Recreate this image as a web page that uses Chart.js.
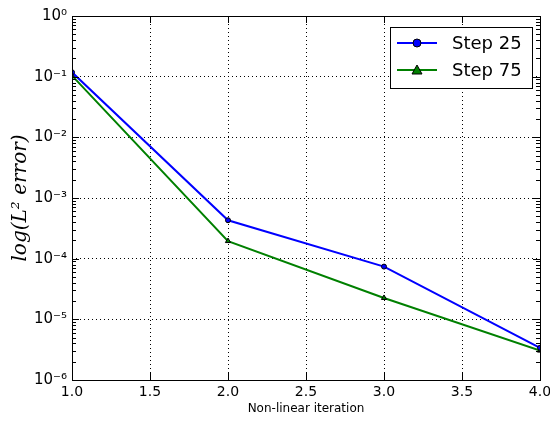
<!DOCTYPE html>
<html>
<head>
<meta charset="utf-8">
<script src="https://cdn.jsdelivr.net/npm/chart.js@4"></script>
<style>
  html, body { margin: 0; padding: 0; background: #fff; }
  #wrap { width: 550px; height: 421px; }
</style>
</head>
<body>
<div id="wrap"><canvas id="errChart" width="550" height="421"></canvas></div>
<script>
  // data
  const iterations = [1, 2, 3, 4];
  const step25 = [0.118, 4.3e-4, 7.4e-5, 3.4e-6];
  const step75 = [0.104, 1.95e-4, 2.25e-5, 3.05e-6];
  const seriesLabels = ['Step 25', 'Step 75'];
  const xTicks = [1.0, 1.5, 2.0, 2.5, 3.0, 3.5, 4.0];
  const yTicks = [1e-6, 1e-5, 1e-4, 1e-3, 1e-2, 1e-1, 1e0];

  const sup = {'-': '⁻', '0': '⁰', '1': '¹', '2': '²', '3': '³', '4': '⁴', '5': '⁵', '6': '⁶', '7': '⁷', '8': '⁸', '9': '⁹'};
  function powLabel(v) {
    const e = String(Math.round(Math.log10(v)));
    return '10' + e.split('').map(c => sup[c]).join('');
  }

  function toPoints(ys) {
    return iterations.map((x, i) => ({x: x, y: ys[i]}));
  }

  // frame, inward ticks and the boxed legend (matplotlib look)
  const framePlugin = {
    id: 'frame',
    afterDraw(chart) {
      const ctx = chart.ctx;
      const a = chart.chartArea;
      const xs = chart.scales.x, ys = chart.scales.y;
      ctx.save();
      ctx.strokeStyle = '#000';
      ctx.lineWidth = 1;
      ctx.beginPath();
      // x major ticks, top and bottom
      xTicks.forEach(v => {
        const px = Math.round(xs.getPixelForValue(v)) + 0.5;
        ctx.moveTo(px, a.bottom); ctx.lineTo(px, a.bottom - 7);
        ctx.moveTo(px, a.top); ctx.lineTo(px, a.top + 7);
      });
      // y major + minor ticks, left and right
      for (let d = -6; d <= 0; d++) {
        for (let k = 1; k <= 9; k++) {
          const v = k * Math.pow(10, d);
          if (v > 1.0000001) break;
          const py = Math.round(ys.getPixelForValue(v)) + 0.5;
          const len = k === 1 ? 7 : 4;
          ctx.moveTo(a.left, py); ctx.lineTo(a.left + len, py);
          ctx.moveTo(a.right, py); ctx.lineTo(a.right - len, py);
        }
      }
      ctx.stroke();
      ctx.strokeRect(Math.round(a.left) + 0.5, Math.round(a.top) + 0.5,
                     Math.round(a.right - a.left), Math.round(a.bottom - a.top));

      // legend
      const bx = 390.5, by = 27.5, bw = 142, bh = 61;
      ctx.fillStyle = '#fff';
      ctx.fillRect(bx, by, bw, bh);
      ctx.strokeStyle = '#000';
      ctx.strokeRect(bx, by, bw, bh);
      chart.data.datasets.forEach((ds, i) => {
        const y = 43 + i * 27;
        ctx.strokeStyle = ds.borderColor;
        ctx.lineWidth = 2;
        ctx.beginPath();
        ctx.moveTo(397, y); ctx.lineTo(437, y);
        ctx.stroke();
        ctx.fillStyle = ds.pointBackgroundColor;
        ctx.strokeStyle = '#000';
        ctx.lineWidth = 1;
        ctx.beginPath();
        if (ds.pointStyle === 'triangle') {
          ctx.moveTo(417, y - 5); ctx.lineTo(422, y + 4); ctx.lineTo(412, y + 4); ctx.closePath();
        } else {
          ctx.arc(417, y, 4, 0, Math.PI * 2);
        }
        ctx.fill(); ctx.stroke();
        ctx.fillStyle = '#000';
        ctx.font = '18px "DejaVu Sans"';
        ctx.textBaseline = 'middle';
        ctx.fillText(ds.label, 452, y + 1);
      });
      ctx.restore();
    }
  };

  const data = {
    datasets: [{
      label: seriesLabels[0],
      data: toPoints(step25),
      borderColor: '#0000ff',
      backgroundColor: '#0000ff',
      borderWidth: 2,
      pointStyle: 'circle',
      pointRadius: 2.5,
      pointBackgroundColor: '#0000ff',
      pointBorderColor: '#000',
      pointBorderWidth: 1,
      tension: 0
    }, {
      label: seriesLabels[1],
      data: toPoints(step75),
      borderColor: '#008000',
      backgroundColor: '#008000',
      borderWidth: 2,
      pointStyle: 'triangle',
      pointRadius: 3,
      pointBackgroundColor: '#008000',
      pointBorderColor: '#000',
      pointBorderWidth: 1,
      tension: 0
    }]
  };

  const config = {
    type: 'line',
    data: data,
    options: {
      responsive: false,
      animation: false,
      layout: { padding: { left: 0, top: 16, right: 10, bottom: 0 } },
      plugins: { legend: { display: false }, tooltip: { enabled: false } },
      scales: {
        x: {
          type: 'linear',
          min: 1, max: 4,
          afterBuildTicks: (s) => { s.ticks = xTicks.map(v => ({value: v})); },
          afterFit: (s) => { s.height = 41; s.paddingLeft = 0; s.paddingRight = 0; },
          ticks: {
            padding: 4,
            color: '#000',
            font: { family: 'DejaVu Sans', size: 14 },
            maxRotation: 0,
            callback: (v) => Number(v).toFixed(1)
          },
          grid: { color: '#000', lineWidth: 1, drawTicks: false },
          border: { display: false, dash: [1, 3] },
          title: {
            display: true,
            text: 'Non-linear iteration',
            color: '#000',
            font: { family: 'DejaVu Sans', size: 12 },
            padding: { top: 0, bottom: 5 }
          }
        },
        y: {
          type: 'logarithmic',
          min: 1e-6, max: 1,
          afterBuildTicks: (s) => { s.ticks = yTicks.map(v => ({value: v})); },
          afterFit: (s) => { s.width = 72; },
          ticks: {
            padding: 5,
            color: '#000',
            font: { family: 'DejaVu Sans', size: 15 },
            callback: (v) => powLabel(v)
          },
          grid: { color: '#000', lineWidth: 1, drawTicks: false },
          border: { display: false, dash: [1, 3] },
          title: {
            display: true,
            text: 'log(L² error)',
            color: '#000',
            font: { family: 'DejaVu Serif', size: 20, style: 'italic' },
            padding: { top: 9, bottom: 0 }
          }
        }
      }
    },
    plugins: [framePlugin]
  };

  const myChart = new Chart(document.getElementById('errChart'), config);
</script>
</body>
</html>
